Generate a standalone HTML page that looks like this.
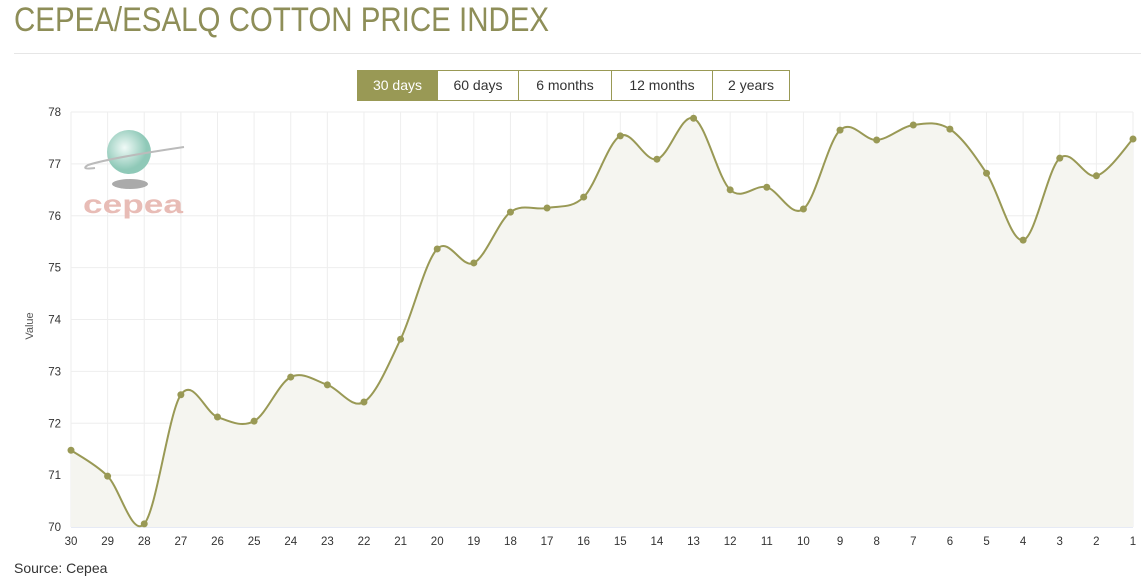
<!DOCTYPE html>
<html><head><meta charset="utf-8"><style>
body{margin:0;background:#fff;font-family:"Liberation Sans",sans-serif;width:1141px;height:581px;overflow:hidden;position:relative}
.t{position:absolute;left:14px;top:1px;font-size:34px;color:#8e8e58;transform:scaleX(0.867);transform-origin:0 0;white-space:nowrap}
.hr{position:absolute;left:14px;right:0;top:53px;border-top:1px solid #e6e6e6}
.btns{position:absolute;left:357px;top:70px;height:31px}
.btns div{position:absolute;top:0;height:31px;box-sizing:border-box;border:1px solid #999955;font-size:14px;color:#333;line-height:29px;text-align:center;background:#fff}
.btns div.a{background:#999955;color:#fff}
.src{position:absolute;left:14px;top:560px;font-size:14px;color:#333}
svg{position:absolute;left:0;top:0}
</style></head><body>
<div class="t">CEPEA/ESALQ COTTON PRICE INDEX</div>
<div class="hr"></div>
<svg id="s" width="1141" height="581"></svg>
<div class="btns"><div class="a" style="left:0;width:81px">30 days</div><div style="left:80px;width:82px">60 days</div><div style="left:161px;width:94px">6 months</div><div style="left:254px;width:102px">12 months</div><div style="left:355px;width:78px">2 years</div></div>
<div class="src">Source: Cepea</div>
<script>
var v=[71.48,70.98,70.06,72.55,72.12,72.04,72.89,72.74,72.41,73.62,75.36,75.09,76.07,76.15,76.36,77.54,77.09,77.88,76.50,76.55,76.13,77.65,77.46,77.75,77.67,76.82,75.53,77.11,76.77,77.48];
var L=71,R=1133,T=112,B=527,dx=(R-L)/29;
function X(i){return L+i*dx}function Y(y){return T+(78-y)*(B-T)/8}
var h='';
for(var k=70;k<=78;k++){var y=Y(k);h+='<line x1="'+L+'" x2="'+R+'" y1="'+y+'" y2="'+y+'" stroke="#eee"/>';h+='<text x="61" y="'+(y+4)+'" font-size="11.5" fill="#333" text-anchor="end">'+k+'</text>';}
for(var i=0;i<30;i++){var x=X(i);h+='<line x1="'+x+'" x2="'+x+'" y1="'+T+'" y2="'+B+'" stroke="#eee"/>';h+='<text x="'+x+'" y="545" font-size="11.5" fill="#333" text-anchor="middle">'+(30-i)+'</text>';}
h+='<line x1="'+L+'" x2="'+R+'" y1="'+B+'" y2="'+B+'" stroke="#ccd6eb"/>';
h+='<text transform="translate(33,326) rotate(-90)" font-size="11" fill="#555" text-anchor="middle">Value</text>';
var p=[];for(i=0;i<30;i++)p.push([X(i),Y(v[i])]);
var d='M'+p[0][0]+' '+p[0][1];
for(i=0;i<29;i++){var p0=p[Math.max(0,i-1)],p1=p[i],p2=p[i+1],p3=p[Math.min(29,i+2)];var s=1/6;
var c1x=p1[0]+(p2[0]-p0[0])*s,c1y=p1[1]+(p2[1]-p0[1])*s,c2x=p2[0]-(p3[0]-p1[0])*s,c2y=p2[1]-(p3[1]-p1[1])*s;
d+=' C'+c1x+' '+c1y+' '+c2x+' '+c2y+' '+p2[0]+' '+p2[1];}
h+='<path d="'+d+' L'+R+' '+B+' L'+L+' '+B+'Z" fill="#f5f5f0"/>';
h+='<path d="'+d+'" fill="none" stroke="#999955" stroke-width="2"/>';
for(i=0;i<30;i++)h+='<circle cx="'+p[i][0]+'" cy="'+p[i][1]+'" r="3.5" fill="#999955"/>';
h+='<defs><radialGradient id="g" cx="0.4" cy="0.4"><stop offset="0" stop-color="#f0faf7"/><stop offset="1" stop-color="#8fc9b8"/></radialGradient></defs>';
h+='<ellipse cx="130" cy="184" rx="18" ry="5" fill="#aaa"/>';
h+='<circle cx="129" cy="152" r="22" fill="url(#g)"/>';
h+='<path d="M184 147 Q110 158 88 165 Q80 170 95 168" fill="none" stroke="#bbb" stroke-width="2"/>';
h+='<text x="83" y="213" font-size="26" font-weight="bold" fill="#e8bcb6" font-family="Liberation Sans" textLength="100" lengthAdjust="spacingAndGlyphs">cepea</text>';
document.getElementById('s').innerHTML=h;
</script>
</body></html>
